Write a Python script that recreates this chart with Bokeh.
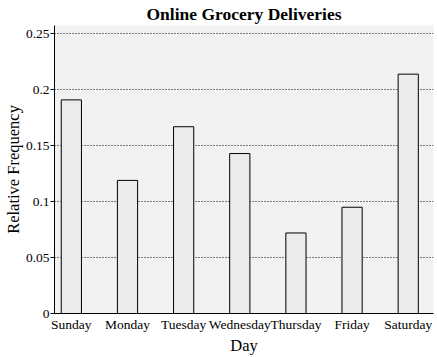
from bokeh.plotting import figure
from bokeh.models import Range1d, FixedTicker, ColumnDataSource
from bokeh.embed import file_html
from bokeh.resources import INLINE

days = ["Sunday", "Monday", "Tuesday", "Wednesday", "Thursday", "Friday", "Saturday"]
freq = [0.191, 0.119, 0.167, 0.143, 0.072, 0.095, 0.214]
y_ticks = [0, 0.05, 0.1, 0.15, 0.2, 0.25]
y_tick_labels = ["0", "0.05", "0.1", "0.15", "0.2", "0.25"]

xpos = list(range(len(days)))
src = ColumnDataSource(dict(x=xpos, top=freq))

FONT = "Liberation Serif"

p = figure(width=437, height=357, output_backend="svg", toolbar_location=None,
           x_range=Range1d(-0.30, 6.45), y_range=Range1d(0, 0.2575),
           min_border_left=54, min_border_right=4, min_border_top=25, min_border_bottom=43,
           title="Online Grocery Deliveries")

p.title.text_font = FONT
p.title.text_font_size = "17.5px"
p.title.text_font_style = "bold"
p.title.align = "center"
p.title.text_color = "black"
p.title.standoff = 0
p.title.text_line_height = 1.0
p.title.vertical_align = "top"

p.background_fill_color = "#f2f2f2"
p.border_fill_color = "white"
p.outline_line_color = None

p.vbar(x="x", top="top", width=0.36, bottom=0, source=src,
       fill_color="#ebebeb", line_color="black", line_width=1)

p.xgrid.grid_line_color = None
p.ygrid.ticker = FixedTicker(ticks=y_ticks)
p.ygrid.grid_line_color = "black"
p.ygrid.grid_line_dash = "1 2"
p.ygrid.grid_line_width = 1

p.xaxis.ticker = FixedTicker(ticks=xpos)
p.xaxis.major_label_overrides = {i: d for i, d in enumerate(days)}
p.xaxis.major_tick_out = 0
p.xaxis.major_tick_in = 0
p.xaxis.minor_tick_line_color = None
p.xaxis.axis_label = "Day"
p.xaxis.major_label_standoff = 3
p.xaxis.axis_label_standoff = 1

p.yaxis.ticker = FixedTicker(ticks=y_ticks)
p.yaxis.major_label_overrides = {t: l for t, l in zip(y_ticks, y_tick_labels)}
p.yaxis.major_tick_out = 4
p.yaxis.major_tick_in = 0
p.yaxis.minor_tick_line_color = None
p.yaxis.axis_label = "Relative Frequency"
p.yaxis.major_label_standoff = 1
p.yaxis.axis_label_standoff = 0

for ax in (p.xaxis, p.yaxis):
    ax.major_label_text_font = FONT
    ax.major_label_text_font_size = "13.5px"
    ax.major_label_text_color = "black"
    ax.axis_label_text_font = FONT
    ax.axis_label_text_font_size = "16.5px"
    ax.axis_label_text_font_style = "normal"
    ax.axis_label_text_color = "black"
    ax.axis_line_color = "black"
    ax.major_tick_line_color = "black"

open("out.html", "w").write(file_html(p, INLINE))
